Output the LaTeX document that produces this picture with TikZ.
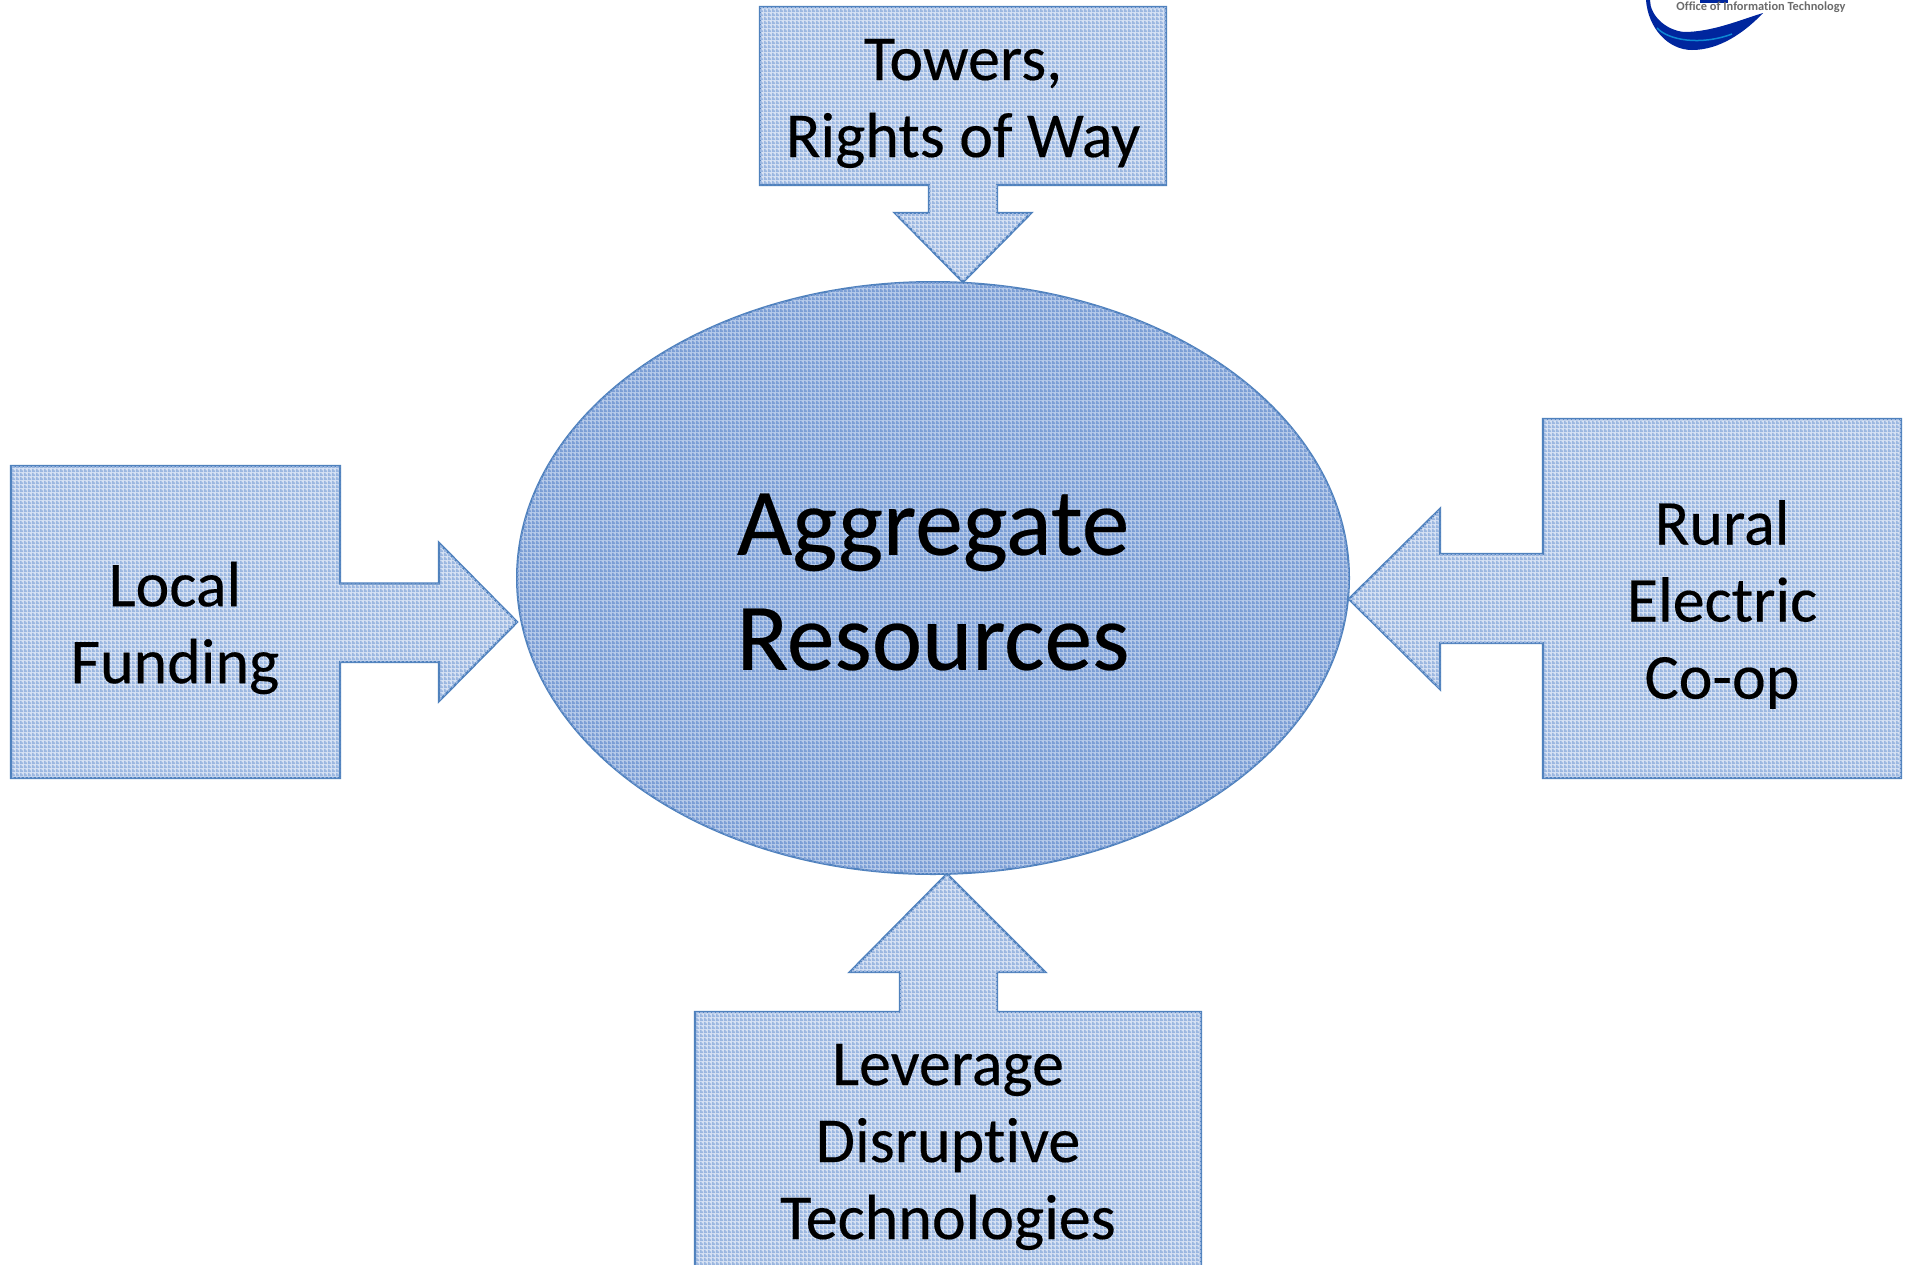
\documentclass[tikz,border=0pt]{standalone}
\usepackage{fontspec}
\setmainfont{Carlito}[Ligatures={NoCommon},FakeBold=0.25]
\newfontfamily\logofont{Carlito}[Ligatures={NoCommon}]
\usetikzlibrary{patterns,shapes.geometric}
\definecolor{edge}{HTML}{4F81BD}
\definecolor{boxbase}{HTML}{D6E1F3}
\definecolor{boxgrid}{HTML}{9AB6E0}
\definecolor{ovalbase}{HTML}{B6CAE9}
\definecolor{ovalgrid}{HTML}{7A9DD5}
\pgfdeclarepatternformonly{gridtex}{\pgfqpoint{0pt}{0pt}}{\pgfqpoint{4pt}{4pt}}{\pgfqpoint{4pt}{4pt}}{%
  \pgfpathrectangle{\pgfqpoint{0pt}{0pt}}{\pgfqpoint{4pt}{2pt}}%
  \pgfpathrectangle{\pgfqpoint{0pt}{2pt}}{\pgfqpoint{2pt}{2pt}}%
  \pgfusepath{fill}}
\tikzset{
  calloutbox/.style={draw=edge,line width=2.4pt,line join=miter,fill=boxbase,postaction={pattern=gridtex,pattern color=boxgrid}},
  smalllabel/.style={font=\fontsize{64}{77}\selectfont,align=center,text=black,inner sep=0pt},
  biglabel/.style={font=\fontsize{95.5}{115}\selectfont,align=center,text=black,inner sep=0pt},
  ovalshape/.style={ellipse,minimum width=832pt,minimum height=592pt,inner sep=0pt,draw=edge,line width=2pt,fill=ovalbase,postaction={pattern=gridtex,pattern color=ovalgrid}},
}
\begin{document}
\begin{tikzpicture}[x=1pt,y=-1pt]
\clip (0,0) rectangle (1906,1264);
\fill[white] (0,0) rectangle (1906,1264);
% logo
\fill[blue!55!black!85!cyan] (1646,0) .. controls (1648,28) and (1668,50) .. (1692,50)
  .. controls (1720,50) and (1745,32) .. (1763,13)
  .. controls (1740,20) and (1712,32) .. (1684,32)
  .. controls (1665,30) and (1650,15) .. (1650,0) -- cycle;
\fill[blue!55!black!85!cyan] (1700,0) rectangle (1728,3);
\draw[cyan!70!blue,line width=1.5pt] (1657,28) .. controls (1668,40) and (1700,46) .. (1732,34);
\node[name=logotext,font=\logofont\bfseries\fontsize{12.4}{14}\selectfont,text=black!58,inner sep=0pt] at (1761,7.5) {Office of Information Technology};
% callouts
\draw[calloutbox] (760,7) -- (1166,7) -- (1166,185) -- (997,185) -- (997,213) -- (1031,213) -- (963,282) -- (895,213) -- (929,213) -- (929,185) -- (760,185) -- cycle;
\draw[calloutbox] (11,466) -- (340,466) -- (340,583.5) -- (439,583.5) -- (439,543) -- (517,622) -- (439,701) -- (439,662) -- (340,662) -- (340,778) -- (11,778) -- cycle;
\draw[calloutbox] (1543,419) -- (1901,419) -- (1901,778) -- (1543,778) -- (1543,643) -- (1440,643) -- (1440,689) -- (1349,599) -- (1440,509) -- (1440,554) -- (1543,554) -- cycle;
\draw[calloutbox] (695,1012) -- (900,1012) -- (900,972) -- (850,972) -- (947,874) -- (1045,972) -- (997,972) -- (997,1012) -- (1201,1012) -- (1201,1275) -- (695,1275) -- cycle;
\node[ovalshape,name=oval] at (933,578) {};
% labels
\node[smalllabel,name=towers] at (963,103.5) {Towers,\\Rights of Way};
\node[smalllabel,name=local] at (175,628) {Local\\Funding};
\node[smalllabel,name=rural] at (1722,604.5) {Rural\\Electric\\Co-op};
\node[smalllabel,name=leverage] at (948,1147) {Leverage\\Disruptive\\Technologies};
\node[biglabel,name=aggregate] at (933,582) {Aggregate\\Resources};
\end{tikzpicture}
\end{document}
